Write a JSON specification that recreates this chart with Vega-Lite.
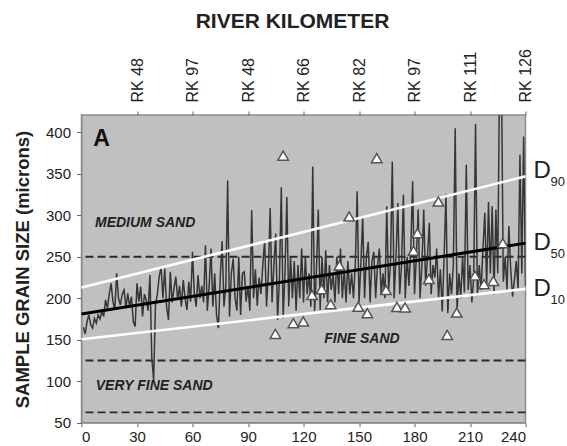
{
  "$schema": "https://vega.github.io/schema/vega-lite/v6.json",
  "width": 444,
  "height": 307.7,
  "autosize": "none",
  "padding": {"left": 81.5, "top": 115, "right": 41.5, "bottom": 23.3},
  "config": {
    "view": {"fill": "#c0c0c0", "stroke": "#8c8c8c", "strokeWidth": 1.5},
    "font": "Liberation Sans",
    "axis": {"grid": false, "labelFont": "Liberation Sans", "titleFont": "Liberation Sans", "labelColor": "#222", "titleColor": "#222", "tickColor": "#666", "domainColor": "#8c8c8c"},
    "axisBottom": {"labelFontSize": 15, "tickSize": 4, "labelPadding": 3},
    "axisLeft": {"labelFontSize": 15, "tickSize": 5, "labelPadding": 6, "titleFontSize": 18.5, "titleFontWeight": "bold", "titleAngle": 270, "titleX": -53, "titleY": 154, "titleAlign": "center", "titleBaseline": "alphabetic"},
    "axisTop": {"labelAngle": 270, "labelAlign": "left", "labelBaseline": "middle", "labelFontSize": 16, "labelPadding": 9, "tickSize": 4, "domain": false, "titleFontSize": 21, "titleFontWeight": "bold", "titleX": 210.5, "titleY": -88, "titleAlign": "center", "titleBaseline": "alphabetic", "titleAngle": 0}
  },
  "datasets": {
    "series": [
      {"x":1,"v":165},{"x":2,"v":157},{"x":3,"v":172},{"x":4,"v":180},{"x":5,"v":168},{"x":6,"v":164},{"x":7,"v":176},{"x":8,"v":170},{"x":9,"v":180},{"x":10,"v":175},
      {"x":11,"v":184},{"x":12,"v":178},{"x":13,"v":198},{"x":14,"v":188},{"x":15,"v":205},{"x":16,"v":218},{"x":17,"v":196},{"x":18,"v":186},{"x":19,"v":230},{"x":20,"v":200},
      {"x":21,"v":192},{"x":22,"v":205},{"x":23,"v":210},{"x":24,"v":188},{"x":25,"v":206},{"x":26,"v":190},{"x":27,"v":202},{"x":28,"v":172},{"x":29,"v":166},{"x":30,"v":218},
      {"x":31,"v":196},{"x":32,"v":214},{"x":33,"v":178},{"x":34,"v":205},{"x":35,"v":198},{"x":36,"v":185},{"x":37,"v":228},{"x":38,"v":128},{"x":39,"v":101},{"x":40,"v":192},
      {"x":41,"v":205},{"x":42,"v":226},{"x":43,"v":238},{"x":44,"v":200},{"x":45,"v":236},{"x":46,"v":190},{"x":47,"v":174},{"x":48,"v":232},{"x":49,"v":195},{"x":50,"v":212},
      {"x":51,"v":226},{"x":52,"v":198},{"x":53,"v":215},{"x":54,"v":190},{"x":55,"v":222},{"x":56,"v":200},{"x":57,"v":186},{"x":58,"v":220},{"x":59,"v":196},{"x":60,"v":256},
      {"x":61,"v":205},{"x":62,"v":190},{"x":63,"v":228},{"x":64,"v":200},{"x":65,"v":215},{"x":66,"v":195},{"x":67,"v":264},{"x":68,"v":185},{"x":69,"v":215},{"x":70,"v":260},
      {"x":71,"v":190},{"x":72,"v":230},{"x":73,"v":180},{"x":74,"v":164},{"x":75,"v":225},{"x":76,"v":269},{"x":77,"v":190},{"x":78,"v":215},{"x":79,"v":342},{"x":80,"v":178},
      {"x":81,"v":230},{"x":82,"v":248},{"x":83,"v":200},{"x":84,"v":185},{"x":85,"v":250},{"x":86,"v":180},{"x":87,"v":230},{"x":88,"v":232},{"x":89,"v":196},{"x":90,"v":215},
      {"x":91,"v":185},{"x":92,"v":306},{"x":93,"v":200},{"x":94,"v":235},{"x":95,"v":191},{"x":96,"v":225},{"x":97,"v":205},{"x":98,"v":240},{"x":99,"v":270},{"x":100,"v":190},
      {"x":101,"v":230},{"x":102,"v":309},{"x":103,"v":195},{"x":104,"v":240},{"x":105,"v":278},{"x":106,"v":174},{"x":107,"v":225},{"x":108,"v":334},{"x":109,"v":176},{"x":110,"v":230},
      {"x":111,"v":322},{"x":112,"v":190},{"x":113,"v":250},{"x":114,"v":200},{"x":115,"v":245},{"x":116,"v":185},{"x":117,"v":240},{"x":118,"v":200},{"x":119,"v":260},{"x":120,"v":195},
      {"x":121,"v":250},{"x":122,"v":205},{"x":123,"v":230},{"x":124,"v":190},{"x":125,"v":359},{"x":126,"v":184},{"x":127,"v":235},{"x":128,"v":307},{"x":129,"v":186},{"x":130,"v":250},
      {"x":131,"v":200},{"x":132,"v":258},{"x":133,"v":195},{"x":134,"v":240},{"x":135,"v":210},{"x":136,"v":230},{"x":137,"v":195},{"x":138,"v":250},{"x":139,"v":205},{"x":140,"v":260},
      {"x":141,"v":200},{"x":142,"v":235},{"x":143,"v":195},{"x":144,"v":245},{"x":145,"v":205},{"x":146,"v":230},{"x":147,"v":200},{"x":148,"v":240},{"x":149,"v":329},{"x":150,"v":195},
      {"x":151,"v":240},{"x":152,"v":299},{"x":153,"v":200},{"x":154,"v":250},{"x":155,"v":268},{"x":156,"v":195},{"x":157,"v":245},{"x":158,"v":256},{"x":159,"v":200},{"x":160,"v":240},
      {"x":161,"v":260},{"x":162,"v":205},{"x":163,"v":230},{"x":164,"v":200},{"x":165,"v":311},{"x":166,"v":210},{"x":167,"v":240},{"x":168,"v":365},{"x":169,"v":200},{"x":170,"v":250},
      {"x":171,"v":315},{"x":172,"v":205},{"x":173,"v":240},{"x":174,"v":325},{"x":175,"v":200},{"x":176,"v":250},{"x":177,"v":215},{"x":178,"v":260},{"x":179,"v":341},{"x":180,"v":205},
      {"x":181,"v":250},{"x":182,"v":307},{"x":183,"v":200},{"x":184,"v":240},{"x":185,"v":307},{"x":186,"v":215},{"x":187,"v":250},{"x":188,"v":291},{"x":189,"v":205},{"x":190,"v":240},
      {"x":191,"v":225},{"x":192,"v":260},{"x":193,"v":200},{"x":194,"v":235},{"x":195,"v":184},{"x":196,"v":250},{"x":197,"v":325},{"x":198,"v":182},{"x":199,"v":230},{"x":200,"v":205},
      {"x":201,"v":240},{"x":202,"v":405},{"x":203,"v":186},{"x":204,"v":230},{"x":205,"v":200},{"x":206,"v":250},{"x":207,"v":207},{"x":208,"v":361},{"x":209,"v":210},{"x":210,"v":240},
      {"x":211,"v":195},{"x":212,"v":225},{"x":213,"v":410},{"x":214,"v":203},{"x":215,"v":240},{"x":216,"v":210},{"x":217,"v":260},{"x":218,"v":303},{"x":219,"v":215},{"x":220,"v":316},
      {"x":221,"v":230},{"x":222,"v":311},{"x":223,"v":205},{"x":224,"v":307},{"x":225,"v":230},{"x":226,"v":480},{"x":227,"v":470},{"x":228,"v":220},{"x":229,"v":250},{"x":230,"v":210},
      {"x":231,"v":287},{"x":232,"v":235},{"x":233,"v":202},{"x":234,"v":222},{"x":235,"v":245},{"x":236,"v":210},{"x":237,"v":373},{"x":238,"v":230},{"x":239,"v":395},{"x":240,"v":215}
    ],
    "tri": [
      {"x":104.8,"v":157},{"x":109,"v":372},{"x":114.5,"v":170},{"x":119.9,"v":172},{"x":124.6,"v":204},
      {"x":129.8,"v":211},{"x":134.7,"v":193},{"x":139.4,"v":239.5},{"x":144.7,"v":298.6},{"x":149.6,"v":190},
      {"x":154.5,"v":182},{"x":159.6,"v":369},{"x":164.6,"v":210},{"x":170.5,"v":189.5},{"x":174.9,"v":189},
      {"x":179.5,"v":257.3},{"x":181.6,"v":278.6},{"x":187.8,"v":223.4},{"x":192.9,"v":316.7},{"x":197.7,"v":155.8},
      {"x":202.8,"v":182.8},{"x":212.7,"v":227.4},{"x":217.6,"v":217},{"x":222.6,"v":221},{"x":227.7,"v":266.5}
    ],
    "curves": [
      {"c":"D90","x":0,"v":213},{"c":"D90","x":240,"v":347},
      {"c":"D10","x":0,"v":150.6},{"c":"D10","x":240,"v":211.4}
    ],
    "d50": [{"x":0,"v":181},{"x":240,"v":266.5}],
    "bounds": [{"v":250},{"v":125},{"v":62.5}],
    "zones": [
      {"label":"MEDIUM SAND","x":7.3,"v":290.6},
      {"label":"FINE SAND","x":131.2,"v":150.6},
      {"label":"VERY FINE SAND","x":7.7,"v":94.3}
    ],
    "panel": [{"label":"A","x":6.4,"v":392}],
    "dlabels": [
      {"x":240,"d":"D","sub":"90","v":353.5},
      {"x":240,"d":"D","sub":"50","v":266.5},
      {"x":240,"d":"D","sub":"10","v":211.4}
    ],
    "rk": [
      {"t":30,"rk":"RK 48"},{"t":60,"rk":"RK 97"},{"t":90,"rk":"RK 48"},{"t":120,"rk":"RK 66"},
      {"t":150,"rk":"RK 82"},{"t":180,"rk":"RK 97"},{"t":210,"rk":"RK 111"},{"t":240,"rk":"RK 126"}
    ]
  },
  "layer": [
    {
      "layer": [
        {
          "data": {"name": "bounds"},
          "mark": {"type": "rule", "stroke": "#2a2a2a", "strokeWidth": 1.9, "strokeDash": [8, 4]},
          "encoding": {
            "y": {"field": "v", "type": "quantitative", "scale": {"domain": [50, 421], "nice": false, "zero": false},
              "axis": {"values": [50,100,150,200,250,300,350,400], "title": "SAMPLE GRAIN SIZE (microns)"}}
          }
        },
        {
          "data": {"name": "series"},
          "mark": {"type": "line", "stroke": "#363636", "strokeWidth": 1.5, "clip": true},
          "encoding": {
            "x": {"field": "x", "type": "quantitative", "scale": {"domain": [0, 240], "nice": false},
              "axis": {"values": [0,30,60,90,120,150,180,210,240], "title": ""}},
            "y": {"field": "v", "type": "quantitative"}
          }
        },
        {
          "data": {"name": "curves"},
          "mark": {"type": "line", "stroke": "white", "strokeWidth": 2.6},
          "encoding": {
            "x": {"field": "x", "type": "quantitative"},
            "y": {"field": "v", "type": "quantitative"},
            "detail": {"field": "c"}
          }
        },
        {
          "data": {"name": "d50"},
          "mark": {"type": "line", "stroke": "black", "strokeWidth": 3},
          "encoding": {
            "x": {"field": "x", "type": "quantitative"},
            "y": {"field": "v", "type": "quantitative"}
          }
        },
        {
          "data": {"name": "tri"},
          "mark": {"type": "point", "shape": "triangle-up", "size": 110, "filled": false, "fill": "white", "stroke": "#555", "strokeWidth": 1.5, "opacity": 1},
          "encoding": {
            "x": {"field": "x", "type": "quantitative"},
            "y": {"field": "v", "type": "quantitative"}
          }
        },
        {
          "data": {"name": "zones"},
          "mark": {"type": "text", "align": "left", "baseline": "middle", "fontSize": 14, "fontStyle": "italic", "fontWeight": "bold", "color": "#222"},
          "encoding": {
            "x": {"field": "x", "type": "quantitative"},
            "y": {"field": "v", "type": "quantitative"},
            "text": {"field": "label"}
          }
        },
        {
          "data": {"name": "panel"},
          "mark": {"type": "text", "align": "left", "baseline": "middle", "fontSize": 23, "fontWeight": "bold", "color": "#111"},
          "encoding": {
            "x": {"field": "x", "type": "quantitative"},
            "y": {"field": "v", "type": "quantitative"},
            "text": {"field": "label"}
          }
        },
        {
          "data": {"name": "dlabels"},
          "mark": {"type": "text", "align": "left", "baseline": "middle", "fontSize": 24, "dx": 8, "color": "#222"},
          "encoding": {
            "x": {"field": "x", "type": "quantitative"},
            "y": {"field": "v", "type": "quantitative"},
            "text": {"field": "d"}
          }
        },
        {
          "data": {"name": "dlabels"},
          "mark": {"type": "text", "align": "left", "baseline": "alphabetic", "fontSize": 13, "dx": 25, "dy": 15, "color": "#222"},
          "encoding": {
            "x": {"field": "x", "type": "quantitative"},
            "y": {"field": "v", "type": "quantitative"},
            "text": {"field": "sub"}
          }
        }
      ]
    },
    {
      "data": {"name": "rk"},
      "mark": {"type": "point", "opacity": 0},
      "encoding": {
        "x": {"field": "t", "type": "quantitative", "scale": {"domain": [0, 240], "nice": false},
          "axis": {"orient": "top", "values": [30,60,90,120,150,180,210,240],
            "labelExpr": "['RK 48','RK 97','RK 48','RK 66','RK 82','RK 97','RK 111','RK 126'][round(datum.value/30)-1]",
            "title": "RIVER KILOMETER"}}
      }
    }
  ],
  "resolve": {"scale": {"x": "independent"}}
}
